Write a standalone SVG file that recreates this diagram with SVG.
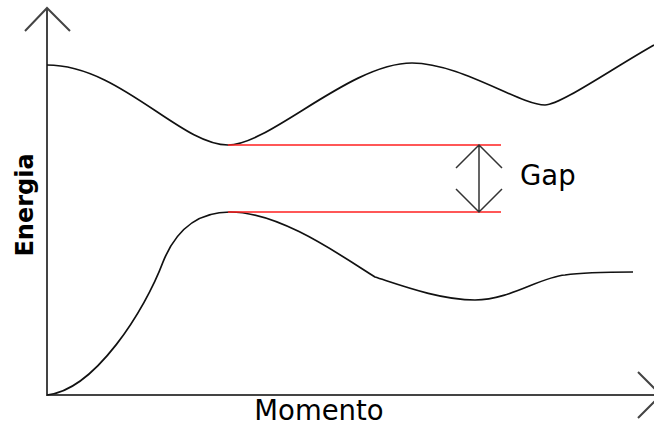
<svg xmlns="http://www.w3.org/2000/svg" width="654" height="425" viewBox="0 0 654 425">
<style>
.axis{stroke:#444;stroke-width:2;fill:none}
.curve{stroke:#111;stroke-width:1.7;fill:none}
.gapline{stroke:#ff2020;stroke-width:1.5;fill:none}
.arrow{stroke:#333;stroke-width:1.5;fill:none}
.lbl{font-family:"DejaVu Sans",sans-serif;fill:#000}
</style>
<rect width="654" height="425" fill="#fff"/>
<g id="axes">
<path class="axis" d="M47,396 L47,8 M25,31 L47,8 L70,31"/>
<path class="axis" d="M46,395 L662,395 M638,372 L661,395 L638,418"/>
</g>
<g id="upper-band">
<path class="curve" d="M47,65 C120,65 180,145 228,145 C270,145 350,63 412,63 C460,63 520,105 545,105 C560,105 610,70 654,45"/>
</g>
<g id="lower-band">
<path class="curve" d="M47,395 C95,390 145,310 163,262 C175,232 195,212 230,212 C280,212 340,255 375,277 C400,285 440,300 475,300 C510,300 540,277 565,275 C585,272 610,272 633,272"/>
</g>
<g id="connectors">
<path class="gapline" d="M228,145 L501,145 M228,212 L501,212"/>
<path class="arrow" d="M479,145 L479,212 M456,168 L479,145 L502,168 M456,189 L479,212 L502,189"/>
</g>
<g id="labels">
<text class="lbl" x="520" y="185" font-size="27.5">Gap</text>
<text class="lbl" x="319" y="420" font-size="27.5" text-anchor="middle">Momento</text>
<text class="lbl" transform="translate(33,205) rotate(-90)" font-size="24" font-weight="bold" text-anchor="middle">Energia</text>
</g>
</svg>
